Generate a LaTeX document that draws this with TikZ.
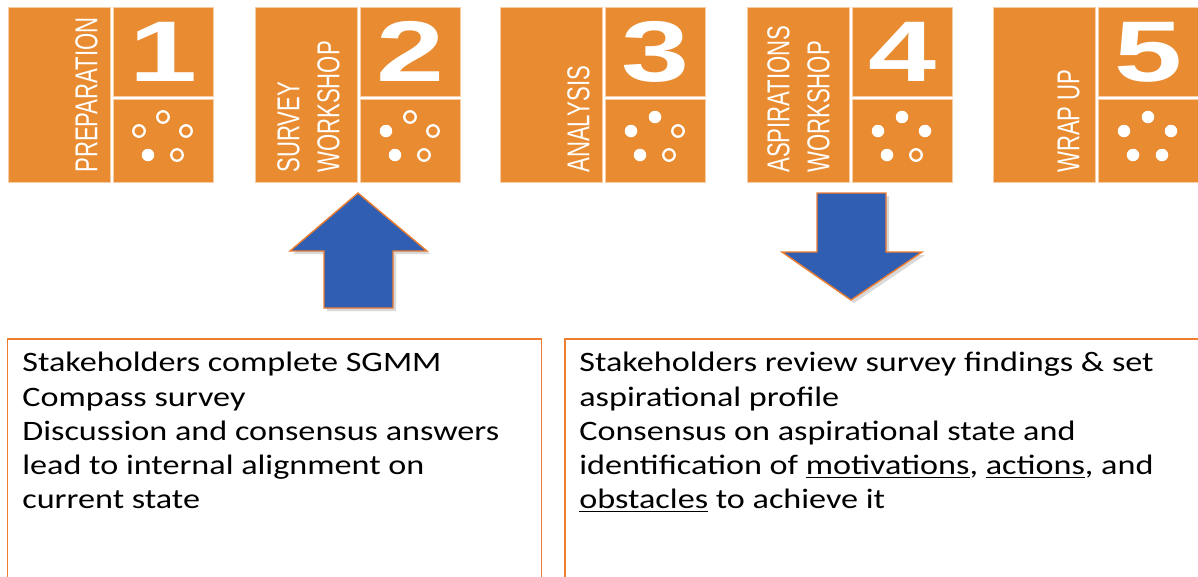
\documentclass[tikz,border=0pt]{standalone}
\usepackage{fontspec}
\setmainfont{Carlito}
\newfontfamily\notefont[FakeStretch=1.215]{Carlito}
\newfontfamily\labelfont[FakeStretch=0.7]{Liberation Sans}
\newfontfamily\numfont[FakeStretch=1.42]{Liberation Sans}
\usetikzlibrary{shadows}

\definecolor{stageorange}{RGB}{233,139,48}
\definecolor{stageline}{RGB}{248,204,165}
\definecolor{arrowblue}{RGB}{47,94,178}
\definecolor{edgeorange}{RGB}{237,125,49}

\tikzset{
    stagebox/.style={fill=stageorange, draw=stageline, line width=0.5pt,
        inner sep=0pt, anchor=north west},
    namebox/.style={stagebox, minimum width=2.04cm, minimum height=3.5cm},
    numbox/.style={stagebox, text=white,
        font=\numfont\bfseries\fontsize{49}{49}\selectfont,
        minimum width=2cm, minimum height=1.78cm},
    dotbox/.style={stagebox, minimum width=2cm, minimum height=1.66cm},
    stagelabel/.style={text=white, font=\labelfont\fontsize{18}{22.7}\selectfont,
        rotate=90, anchor=south west, align=left, inner sep=0pt},
    dotopen/.style={draw=white, line width=1.3pt},
    bigarrow/.style={fill=arrowblue, draw=edgeorange, line width=0.8pt,
        drop shadow={opacity=0.3, shadow xshift=0.06cm, shadow yshift=-0.06cm}},
    notebox/.style={draw=edgeorange, line width=0.9pt, anchor=north west,
        inner sep=0pt, minimum height=5.3cm},
    notetext/.style={font=\notefont\fontsize{16}{19.5}\selectfont,
        align=left, anchor=north west, inner sep=0pt}
}

\begin{document}
\begin{tikzpicture}[x=0.02cm, y=-0.02cm]

\useasboundingbox (0,0) rectangle (1198,576);
\clip (0,0) rectangle (1198,576);

% Step 1
\node (prep) [namebox] at (8,7) {};
\node (prepnum) [numbox] at (113,7) {1};
\node (prepdots) [dotbox] at (113,99) {};
\node (preplabel) [stagelabel] at (98,173) {PREPARATION};
\fill [white] (148,155) circle (0.125cm);
\draw [dotopen] (139,131) circle (0.115cm) (163,117) circle (0.115cm)
    (186,131) circle (0.115cm) (177,155) circle (0.115cm);

% Step 2
\node (survey) [namebox] at (255,7) {};
\node (surveynum) [numbox] at (360,7) {2};
\node (surveydots) [dotbox] at (360,99) {};
\node (surveylabel) [stagelabel] at (340,173) {SURVEY\\WORKSHOP};
\fill [white] (395,155) circle (0.125cm) (386,131) circle (0.125cm);
\draw [dotopen] (410,117) circle (0.115cm)
    (433,131) circle (0.115cm) (424,155) circle (0.115cm);

% Step 3
\node (analysis) [namebox] at (500,7) {};
\node (analysisnum) [numbox] at (605,7) {3};
\node (analysisdots) [dotbox] at (605,99) {};
\node (analysislabel) [stagelabel] at (590,173) {ANALYSIS};
\fill [white] (640,155) circle (0.125cm) (631,131) circle (0.125cm)
    (655,117) circle (0.125cm);
\draw [dotopen] (678,131) circle (0.115cm) (669,155) circle (0.115cm);

% Step 4
\node (aspire) [namebox] at (747,7) {};
\node (aspirenum) [numbox] at (852,7) {4};
\node (aspiredots) [dotbox] at (852,99) {};
\node (aspirelabel) [stagelabel] at (830,173) {ASPIRATIONS\\WORKSHOP};
\fill [white] (887,155) circle (0.125cm) (878,131) circle (0.125cm)
    (902,117) circle (0.125cm) (925,131) circle (0.125cm);
\draw [dotopen] (916,155) circle (0.115cm);

% Step 5
\node (wrap) [namebox] at (993,7) {};
\node (wrapnum) [numbox] at (1098,7) {5};
\node (wrapdots) [dotbox] at (1098,99) {};
\node (wraplabel) [stagelabel] at (1080,173) {WRAP UP};
\fill [white] (1133,155) circle (0.125cm) (1124,131) circle (0.125cm)
    (1148,117) circle (0.125cm) (1171,131) circle (0.125cm)
    (1162,155) circle (0.125cm);

%-------------------------------------
% block arrows
\draw [bigarrow] (358,193) -- (427,251) -- (393,251) -- (393,308)
    -- (324,308) -- (324,251) -- (290,251) -- cycle;
\draw [bigarrow] (817,193) -- (886,193) -- (886,252) -- (922,252)
    -- (851,300) -- (782,252) -- (817,252) -- cycle;

%-------------------------------------
% notes under the steps
\node (surveynote) [notebox, minimum width=10.69cm] at (6.5,338) {};
\node (surveytext) [notetext] at (22,352) {Stakeholders complete SGMM\\
    Compass survey\\
    Discussion and consensus answers\\
    lead to internal alignment on\\
    current state};

\node (aspirenote) [notebox, minimum width=13.6cm] at (564,338) {};
\node (aspiretext) [notetext] at (579,352) {Stakeholders review survey findings \& set\\
    aspirational profile\\
    Consensus on aspirational state and\\
    identification of \underline{motivations}, \underline{actions}, and\\
    \underline{obstacles} to achieve it};

\end{tikzpicture}
\end{document}
